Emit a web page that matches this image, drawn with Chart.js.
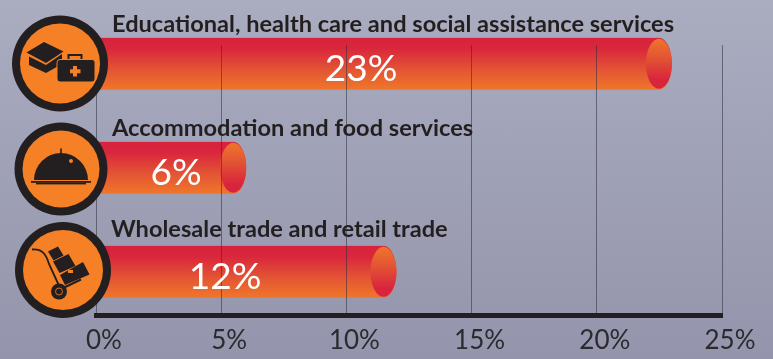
<!DOCTYPE html>
<html>
<head>
<meta charset="utf-8">
<style>
  html, body { margin: 0; padding: 0; width: 773px; height: 359px; overflow: hidden;
    background: linear-gradient(180deg, #aaacc0 0%, #9495ac 100%); }
  canvas { display: block; }
</style>
<script src="https://cdn.jsdelivr.net/npm/chart.js@4"></script>
</head>
<body>
<canvas id="chart" width="773" height="359"></canvas>
<script>
// Employment share by industry
const categories = [
  "Educational, health care and social assistance services",
  "Accommodation and food services",
  "Wholesale trade and retail trade"
];
const shares = [23, 6, 12];
const tickStep = 5;
const axisMax = 25;

const INK = "#231f20";
const ORANGE = "#f58025";
const CAP_RX = 13;
const BAR_HEIGHT = 52;

// Vertical red-to-orange ramp over one bar; flipped for the end cap.
function barRamp(c, top, flip) {
  const g = c.createLinearGradient(0, top, 0, top + BAR_HEIGHT);
  const stops = [[0, "#d8223d"], [0.2, "#d9263c"], [0.6, "#e25334"], [1, "#f0762a"]];
  stops.forEach(([o, col]) => g.addColorStop(flip ? 1 - o : o, col));
  return g;
}

// Shapes the bar ends into a rounded cylinder that finishes at its value.
const cylinderEnds = {
  id: "cylinderEnds",
  beforeDatasetDraw(chart) {
    const c = chart.ctx;
    c.save();
    c.beginPath();
    chart.getDatasetMeta(0).data.forEach(bar => {
      const top = bar.y - BAR_HEIGHT / 2;
      bar.options = Object.assign({}, bar.options, { backgroundColor: barRamp(c, top, false) });
      c.rect(bar.base, top, bar.x - CAP_RX - bar.base, BAR_HEIGHT);
      c.moveTo(bar.x, bar.y);
      c.ellipse(bar.x - CAP_RX, bar.y, CAP_RX, BAR_HEIGHT / 2, 0, 0, Math.PI * 2);
    });
    c.clip();
  },
  afterDatasetDraw(chart) {
    const c = chart.ctx;
    c.restore();
    chart.getDatasetMeta(0).data.forEach(bar => {
      c.fillStyle = barRamp(c, bar.y - BAR_HEIGHT / 2, true);
      c.beginPath();
      c.ellipse(bar.x - CAP_RX, bar.y, CAP_RX, BAR_HEIGHT / 2 - 1, 0, 0, Math.PI * 2);
      c.fill();
    });
  }
};

function poly(c, pts, color) {
  c.fillStyle = color;
  c.beginPath();
  pts.forEach(([x, y], i) => i ? c.lineTo(x, y) : c.moveTo(x, y));
  c.closePath();
  c.fill();
}

function badge(c, x, y, r, ring) {
  c.fillStyle = INK;
  c.beginPath(); c.arc(x, y, r, 0, Math.PI * 2); c.fill();
  c.fillStyle = ORANGE;
  c.beginPath(); c.arc(x, y, r - ring, 0, Math.PI * 2); c.fill();
}

function capAndCaseIcon(c) {
  poly(c, [[29, 56.5], [46, 65], [62, 54], [62, 64], [46, 73], [29, 65]], INK);
  poly(c, [[26.5, 52.5], [44, 42], [63.5, 51.5], [46, 63]], INK);
  // briefcase
  c.strokeStyle = INK; c.lineWidth = 2;
  c.strokeRect(68.5, 55, 13, 6);
  c.strokeStyle = ORANGE; c.lineWidth = 1;
  c.fillStyle = INK;
  c.beginPath(); c.roundRect(57, 59.5, 38, 22.5, 3); c.fill(); c.stroke();
  c.fillStyle = ORANGE;
  c.fillRect(73, 66, 4, 10.5);
  c.fillRect(70, 69.3, 10.5, 4);
}

function clocheIcon(c) {
  c.fillStyle = INK;
  c.fillRect(60.2, 148.5, 1.6, 6);
  c.beginPath();
  c.ellipse(61, 180, 27, 27, 0, Math.PI, 0);
  c.closePath();
  c.fill();
  c.fillStyle = ORANGE;
  c.beginPath(); c.arc(71, 161, 2, 0, Math.PI * 2); c.fill();
  c.fillStyle = INK;
  c.fillRect(31, 181, 60, 1.8);
  c.fillRect(36, 182.8, 50, 1.6);
}

function handTruckIcon(c) {
  c.strokeStyle = INK;
  c.lineWidth = 1.8;
  c.beginPath();
  c.moveTo(32, 249.5);
  c.bezierCurveTo(42, 248.5, 46, 254, 49, 264);
  c.lineTo(61, 290);
  c.stroke();
  c.lineWidth = 2;
  c.beginPath(); c.moveTo(61, 289); c.lineTo(81, 279.5); c.stroke();
  // stacked cartons
  poly(c, [[60, 275], [83, 262], [89.5, 274.5], [65, 285]], INK);
  poly(c, [[53, 261.5], [68.5, 254], [75.5, 266], [59.5, 273]], INK);
  poly(c, [[48, 251.5], [58, 246.5], [63.5, 255.5], [53.5, 260.5]], INK);
  c.fillStyle = ORANGE;
  c.fillRect(68, 270, 5, 3);
  c.fillStyle = INK;
  c.beginPath(); c.arc(59, 291.5, 8, 0, Math.PI * 2); c.fill();
  c.strokeStyle = ORANGE; c.lineWidth = 0.8;
  c.beginPath(); c.arc(59, 291.5, 3.5, 0, Math.PI * 2); c.stroke();
}

// Badges, industry names and the large percentage captions sit above the grid.
const overlays = {
  id: "overlays",
  afterDraw(chart) {
    const c = chart.ctx;
    const bars = chart.getDatasetMeta(0).data;
    c.save();
    badge(c, 60, 63.5, 48, 8);
    capAndCaseIcon(c);
    badge(c, 61, 169, 46.5, 8);
    clocheIcon(c);
    badge(c, 63, 270, 48, 8);
    handTruckIcon(c);

    const nameX = [112, 112, 111];
    const nameY = [32, 136, 237];
    c.fillStyle = INK;
    c.textAlign = "left";
    c.textBaseline = "alphabetic";
    c.font = "700 23.6px Lato, sans-serif";
    categories.forEach((name, i) => c.fillText(name, nameX[i], nameY[i]));

    const captionX = [361, 176, 225];
    c.fillStyle = "#ffffff";
    c.textAlign = "center";
    c.textBaseline = "middle";
    c.font = "400 37px Lato, sans-serif";
    shares.forEach((v, i) => c.fillText(v + "%", captionX[i], bars[i].y + 5));
    c.restore();
  }
};

new Chart(document.getElementById("chart"), {
  type: "bar",
  data: {
    datasets: [{
      data: shares.map((v, i) => ({ x: v, y: i })),
      barThickness: BAR_HEIGHT,
      clip: false,
      backgroundColor: "#e25334"
    }]
  },
  options: {
    indexAxis: "y",
    responsive: false,
    animation: false,
    events: [],
    layout: { padding: { left: 96, right: 51, top: 45, bottom: 0 } },
    plugins: { legend: { display: false }, tooltip: { enabled: false } },
    scales: {
      x: {
        type: "linear",
        min: 0,
        max: axisMax,
        afterFit(scale) { scale.height = 43.5; },
        grid: { color: "rgba(45,45,60,0.55)", lineWidth: 1, drawTicks: false, z: 1 },
        border: { color: INK, width: 5, z: 2 },
        ticks: {
          stepSize: tickStep,
          color: "#2b2a2e",
          padding: 10,
          labelOffset: 8,
          maxRotation: 0,
          font: { family: "Lato, sans-serif", size: 26, weight: "400" },
          callback: v => v + "%"
        }
      },
      y: { type: "linear", display: false, reverse: true, offset: false, grid: { offset: false }, min: -0.18, max: 2.42 }
    }
  },
  plugins: [cylinderEnds, overlays]
});
</script>
</body>
</html>
